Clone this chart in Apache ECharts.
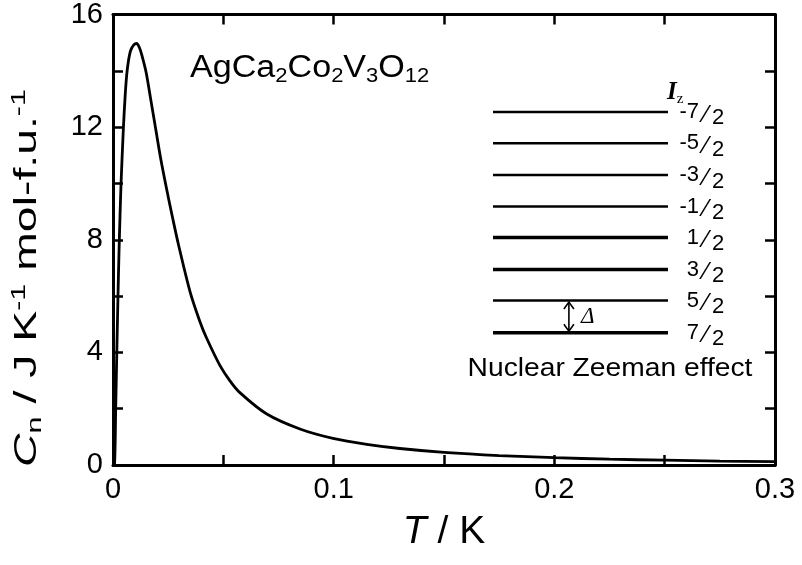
<!DOCTYPE html>
<html><head><meta charset="utf-8">
<script src="https://cdn.jsdelivr.net/npm/echarts@6/dist/echarts.min.js"></script>
<style>html,body{margin:0;padding:0;background:#fff}#c{width:802px;height:565px}</style>
</head><body><div id="c"></div>
<script>
// ---- data ----
const tempK = [0, 0.0007, 0.0012, 0.0017, 0.0022, 0.0027, 0.0032, 0.0037, 0.0047, 0.0055, 0.0062, 0.0070, 0.0080, 0.0095, 0.0107, 0.0120, 0.0131, 0.0150, 0.0170, 0.0190, 0.0215, 0.0243, 0.0270, 0.0296, 0.0349, 0.0394, 0.0424, 0.0485, 0.0530, 0.0575, 0.0697, 0.0847, 0.0997, 0.115, 0.130, 0.150, 0.175, 0.200, 0.225, 0.250, 0.275, 0.300];
const cn    = [0, 0.02, 1.9, 3.9, 5.8, 7.5, 8.9, 10.1, 11.95, 13.1, 13.85, 14.35, 14.72, 14.93, 14.97, 14.82, 14.55, 13.95, 13.03, 12.10, 10.93, 9.80, 8.78, 7.85, 6.16, 5.09, 4.51, 3.53, 2.99, 2.57, 1.81, 1.28, 0.946, 0.733, 0.586, 0.449, 0.336, 0.26, 0.207, 0.170, 0.140, 0.118];
const xTickLabels = ['0', '0.1', '0.2', '0.3'];
const yTickLabels = ['0', '4', '8', '12', '16'];
// Zeeman level diagram (drawn in data coordinates)
const levelNum = ['-7', '-5', '-3', '-1', '1', '3', '5', '7'];
const levelDen = ['2', '2', '2', '2', '2', '2', '2', '2'];
const levelC = [12.54, 11.43, 10.30, 9.18, 8.08, 6.94, 5.84, 4.70];
const levelT = [0.1722, 0.2515];
const arrowT = [0.2066];
const compound = ['AgCa', '2', 'Co', '2', 'V', '3', 'O', '12'];

const FONT = '"Liberation Sans", Arial, sans-serif';
const SERIF = '"Liberation Serif", "Times New Roman", serif';
const thick = new Set([4, 5, 7]);

const chart = echarts.init(document.getElementById('c'), null, {renderer: 'canvas'});

const axisCommon = {
  type: 'value',
  axisLine: {show: true, onZero: false, lineStyle: {color: '#000', width: 3}},
  axisTick: {show: true, inside: true, length: 10, lineStyle: {color: '#000', width: 2.5}},
  minorTick: {show: true, splitNumber: 2, length: 10, lineStyle: {color: '#000', width: 2.5}},
  splitLine: {show: false},
  minorSplitLine: {show: false}
};

function txt(text, x, y, font, align) {
  return {type: 'text', style: {text: text, x: x, y: y, fill: '#000', font: font,
    textAlign: align, align: align, textVerticalAlign: 'middle', verticalAlign: 'middle'}};
}

function levelsRender(params, api) {
  const i = api.value(0);
  const c = api.value(1);
  const p0 = api.coord([levelT[0], c]);
  const p1 = api.coord([levelT[1], c]);
  const y = p0[1];
  const xs = p1[0] + 31;
  return {
    type: 'group',
    children: [
      {type: 'line', shape: {x1: p0[0], y1: y, x2: p1[0], y2: y},
       style: {stroke: '#000', lineWidth: thick.has(i) ? 3.5 : 2.5}},
      txt(levelNum[i], xs, y, '22px ' + FONT, 'right'),
      txt('\u2044', xs + 7, y + 3, '24px ' + FONT, 'center'),
      txt(levelDen[i], xs + 13, y + 6.5, '22px ' + FONT, 'left')
    ]
  };
}

function arrowRender(params, api) {
  const t = api.value(0);
  const a = api.coord([t, api.value(1)]);
  const b = api.coord([t, api.value(2)]);
  const x = a[0], y1 = a[1] + 1.5, y2 = b[1] - 1.5;
  const s = {stroke: '#000', lineWidth: 1.6, fill: null};
  return {
    type: 'group',
    children: [
      {type: 'line', shape: {x1: x, y1: y1, x2: x, y2: y2}, style: s},
      {type: 'polyline', shape: {points: [[x - 5, y1 + 7], [x, y1], [x + 5, y1 + 7]]}, style: s},
      {type: 'polyline', shape: {points: [[x - 5, y2 - 7], [x, y2], [x + 5, y2 - 7]]}, style: s}
    ]
  };
}

const compoundText = compound.map((s, k) => (k % 2 === 0 ? '{m|' + s + '}' : '{s|' + s + '}')).join('');

chart.setOption({
  animation: false,
  backgroundColor: '#fff',
  grid: {left: 113, right: 27, top: 13, bottom: 100, containLabel: false},
  xAxis: [
    Object.assign({}, axisCommon, {
      position: 'bottom', min: 0, max: 0.3, interval: 0.1,
      axisLabel: {show: true, color: '#000', fontSize: 29, fontFamily: FONT, margin: 10,
        formatter: (v) => xTickLabels[Math.round(v / 0.1)]},
      name: '{i|T} / K', nameLocation: 'middle', nameGap: 48,
      nameTextStyle: {color: '#000', fontSize: 39, fontFamily: FONT,
        rich: {i: {fontStyle: 'italic', fontSize: 39, fontFamily: FONT, color: '#000'}}}
    }),
    Object.assign({}, axisCommon, {position: 'top', min: 0, max: 0.3, interval: 0.1, axisLabel: {show: false}})
  ],
  yAxis: [
    Object.assign({}, axisCommon, {
      position: 'left', min: 0, max: 16, interval: 4,
      axisLabel: {show: true, color: '#000', fontSize: 29, fontFamily: FONT, margin: 10,
        formatter: (v) => yTickLabels[Math.round(v / 4)]}
    }),
    Object.assign({}, axisCommon, {position: 'right', min: 0, max: 16, interval: 4, axisLabel: {show: false}})
  ],
  series: [
    {type: 'line', data: tempK.map((t, k) => [t, cn[k]]), showSymbol: false, symbol: 'none',
     smooth: 0.3, lineStyle: {color: '#000', width: 2.8}, z: 3},
    {type: 'custom', renderItem: levelsRender, data: levelC.map((c, k) => [k, c]), z: 4, silent: true},
    {type: 'custom', renderItem: arrowRender, data: [[arrowT[0], levelC[6], levelC[7]]], z: 4, silent: true}
  ],
  graphic: [
    {type: 'text', x: 190, y: 50, scaleX: 1.1, style: {text: compoundText, fill: '#000',
      rich: {m: {fontSize: 31, fontFamily: FONT, lineHeight: 36, fill: '#000', color: '#000'},
             s: {fontSize: 20, fontFamily: FONT, lineHeight: 20, padding: [16, 0, 0, 0], fill: '#000', color: '#000'}}}},
    {type: 'text', x: 667, y: 93, style: {text: '{i|I}{z|z}', fill: '#000',
      rich: {i: {fontSize: 25, fontFamily: SERIF, fontStyle: 'italic', fontWeight: 'bold', lineHeight: 28, color: '#000', fill: '#000'},
             z: {fontSize: 15, fontFamily: SERIF, lineHeight: 15, padding: [12, 0, 0, 0], color: '#000', fill: '#000'}},
      textVerticalAlign: 'middle', verticalAlign: 'middle'}},
    {type: 'text', x: 581, y: 317, style: {text: 'Δ', fill: '#000', font: 'italic 23px ' + SERIF,
      textVerticalAlign: 'middle', verticalAlign: 'middle'}},
    {type: 'text', x: 610, y: 369, scaleX: 1.085, style: {text: 'Nuclear Zeeman effect', fill: '#000', font: '26px ' + FONT,
      textAlign: 'center', align: 'center', textVerticalAlign: 'middle', verticalAlign: 'middle'}},
    {type: 'text', x: 27, y: 278, rotation: Math.PI / 2, scaleX: 1.45,
      style: {text: '{i|C}{n|n} / J K{p|-1} mol-f.u.{p|-1}', fill: '#000',
        textAlign: 'center', align: 'center', textVerticalAlign: 'middle', verticalAlign: 'middle',
        font: '32px ' + FONT,
        rich: {
          i: {fontSize: 32, fontStyle: 'italic', fontFamily: FONT, lineHeight: 38, color: '#000', fill: '#000'},
          n: {fontSize: 21, fontFamily: FONT, lineHeight: 21, padding: [17, 0, 0, 0], color: '#000', fill: '#000'},
          p: {fontSize: 21, fontFamily: FONT, lineHeight: 21, padding: [0, 0, 15, 0], color: '#000', fill: '#000'}
        }}}
  ]
});
</script></body></html>
